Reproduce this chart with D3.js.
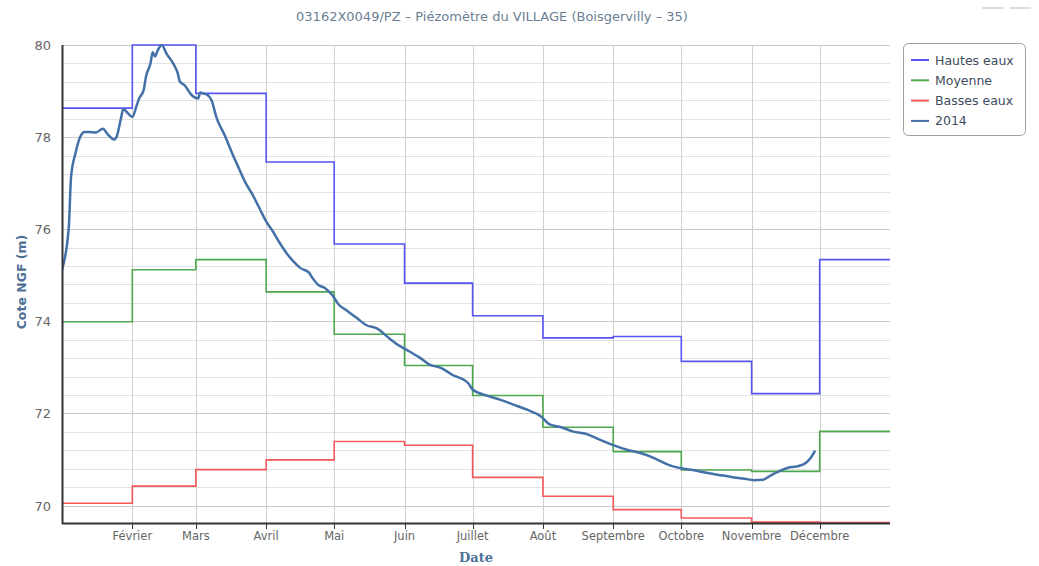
<!DOCTYPE html>
<html>
<head>
<meta charset="utf-8">
<script src="https://cdn.jsdelivr.net/npm/d3@7"></script>
<style>
  body { margin: 0; background: #fff; }
  svg { display: block; font-family: "DejaVu Sans", Verdana, sans-serif; }
</style>
</head>
<body>
<div class="container"></div>
<script>
// monthly reference levels (Jan..Dec)
const monthStarts = ['2014-01-01','2014-02-01','2014-03-01','2014-04-01','2014-05-01','2014-06-01',
                     '2014-07-01','2014-08-01','2014-09-01','2014-10-01','2014-11-01','2014-12-01']
const monthLabels = ['Janvier','Février','Mars','Avril','Mai','Juin','Juillet','Août',
                     'Septembre','Octobre','Novembre','Décembre']
const hautes = [78.63, 80.0, 78.95, 77.46, 75.68, 74.83, 74.12, 73.64, 73.67, 73.13, 72.43, 75.34]
const moyenne = [73.99, 75.12, 75.34, 74.64, 73.72, 73.04, 72.39, 71.70, 71.17, 70.77, 70.74, 71.61]
const basses = [70.05, 70.42, 70.78, 70.99, 71.39, 71.31, 70.61, 70.20, 69.91, 69.73, 69.64, 69.63]

// 2014 measured levels
const dates2014 = ['2014-01-01','2014-01-04','2014-01-05','2014-01-07','2014-01-09','2014-01-11','2014-01-13',
  '2014-01-16','2014-01-19','2014-01-21','2014-01-24','2014-01-25','2014-01-27','2014-01-28','2014-01-30',
  '2014-02-01','2014-02-03','2014-02-04','2014-02-06','2014-02-07','2014-02-09','2014-02-10','2014-02-11',
  '2014-02-12','2014-02-14','2014-02-16','2014-02-19','2014-02-21','2014-02-22','2014-02-24','2014-02-27',
  '2014-03-02','2014-03-03','2014-03-04','2014-03-06','2014-03-08','2014-03-10','2014-03-14','2014-03-17',
  '2014-03-20','2014-03-23','2014-03-26','2014-03-29','2014-04-01','2014-04-04','2014-04-07','2014-04-10',
  '2014-04-13','2014-04-16','2014-04-20','2014-04-21','2014-04-24','2014-04-27','2014-04-30','2014-05-03',
  '2014-05-06','2014-05-11','2014-05-15','2014-05-20','2014-05-25','2014-05-30','2014-06-03','2014-06-08',
  '2014-06-12','2014-06-17','2014-06-22','2014-06-29','2014-07-01','2014-07-07','2014-07-13','2014-07-19',
  '2014-07-25','2014-07-31','2014-08-04','2014-08-09','2014-08-14','2014-08-21','2014-08-26','2014-09-01',
  '2014-09-07','2014-09-13','2014-09-19','2014-09-22','2014-09-26','2014-10-02','2014-10-06','2014-10-12',
  '2014-10-17','2014-10-23','2014-10-29','2014-11-02','2014-11-06','2014-11-09','2014-11-13','2014-11-17',
  '2014-11-21','2014-11-25','2014-11-27','2014-11-29']
const levels2014 = [75.12, 76.05, 77.14, 77.66, 78.0, 78.11, 78.11,
  78.10, 78.18, 78.07, 77.95, 78.0, 78.41, 78.61, 78.52,
  78.44, 78.70, 78.84, 79.02, 79.31, 79.60, 79.84, 79.75,
  79.86, 80.0, 79.82, 79.60, 79.39, 79.20, 79.13, 78.92,
  78.84, 78.97, 78.95, 78.92, 78.79, 78.44, 78.01, 77.65,
  77.32, 77.0, 76.75, 76.46, 76.17, 75.95, 75.70, 75.48,
  75.30, 75.16, 75.05, 74.97, 74.79, 74.72, 74.58, 74.36,
  74.25, 74.07, 73.92, 73.84, 73.64, 73.46, 73.35, 73.20,
  73.06, 72.99, 72.84, 72.66, 72.52, 72.39, 72.30, 72.19,
  72.08, 71.94, 71.76, 71.70, 71.61, 71.54, 71.43, 71.31,
  71.21, 71.14, 71.03, 70.96, 70.87, 70.80, 70.77, 70.71,
  70.67, 70.62, 70.58, 70.55, 70.56, 70.64, 70.74, 70.82,
  70.85, 70.93, 71.03, 71.19]

const yTicks = [70, 72, 74, 76, 78, 80]

let margin = { top: 45, left: 62, bottom: 43, right: 149 }
const width = 1039 - margin.left - margin.right
const height = 566 - margin.top - margin.bottom

const parse = d3.timeParse('%Y-%m-%d')

const svg = d3.select('.container').append('svg')
    .attr('width', 1039)
    .attr('height', 566)
const g = svg.append('g')
    .attr('transform', `translate(${margin.left},${margin.top})`)

const x = d3.scaleTime()
    .domain([parse('2014-01-01'), parse('2015-01-01')])
    .range([0, width])
const y = d3.scaleLinear().domain([69.62, 80]).range([height, 0])

// horizontal grid: minor every 0.4, major every 2
const minor = d3.range(70, 80.01, 0.4).map(v => +v.toFixed(1))
g.append('g').selectAll('line').data(minor).enter().append('line')
    .attr('x1', 0).attr('x2', width)
    .attr('y1', d => Math.round(y(d)) + 0.5).attr('y2', d => Math.round(y(d)) + 0.5)
    .attr('stroke', d => yTicks.includes(Math.round(d * 10) / 10) ? '#c8c8c8' : '#e2e2e2')
    .attr('stroke-width', 1)

// vertical month grid
const monthDates = monthStarts.map(parse)
g.append('g').selectAll('line').data(monthDates.slice(1)).enter().append('line')
    .attr('x1', d => Math.round(x(d)) + 0.5).attr('x2', d => Math.round(x(d)) + 0.5)
    .attr('y1', 0).attr('y2', height)
    .attr('stroke', '#d0d0d0')

// step series
function stepPoints(vals) {
    let pts = vals.map((v, i) => ({ d: monthDates[i], v: v }))
    pts.push({ d: parse('2015-01-01'), v: vals[vals.length - 1] })
    return pts
}
const stepLine = d3.line().x(d => x(d.d)).y(d => y(d.v)).curve(d3.curveStepAfter)

svg.append('clipPath').attr('id', 'clip').append('rect')
    .attr('x', 0).attr('y', -1).attr('width', width).attr('height', height + 1)

const series = [
    { name: 'Hautes eaux', vals: hautes, color: '#5555f2' },
    { name: 'Moyenne', vals: moyenne, color: '#4ea84e' },
    { name: 'Basses eaux', vals: basses, color: '#f45858' }
]
const plot = g.append('g').attr('clip-path', 'url(#clip)')
series.forEach(s => {
    plot.append('path')
        .datum(stepPoints(s.vals))
        .attr('fill', 'none')
        .attr('stroke', s.color)
        .attr('stroke-width', 1.6)
        .attr('d', stepLine)
})

const data2014 = dates2014.map((d, i) => ({ d: parse(d), v: levels2014[i] }))
plot.append('path')
    .datum(data2014)
    .attr('fill', 'none')
    .attr('stroke', '#4470a8')
    .attr('stroke-width', 2.5)
    .attr('stroke-linejoin', 'round')
    .attr('d', d3.line().x(d => x(d.d)).y(d => y(d.v)).curve(d3.curveMonotoneX))

// axes
const xAxis = g.append('g').attr('transform', `translate(0,${height})`)
xAxis.append('line').attr('x1', 0).attr('x2', width).attr('y1', 0.5).attr('y2', 0.5)
    .attr('stroke', '#333').attr('stroke-width', 2)
xAxis.selectAll('.tick').data(monthDates.slice(1)).enter().append('line')
    .attr('x1', d => Math.round(x(d)) + 0.5).attr('x2', d => Math.round(x(d)) + 0.5)
    .attr('y1', 0).attr('y2', 6).attr('stroke', '#333')
xAxis.selectAll('.lbl').data(monthDates.slice(1)).enter().append('text')
    .attr('x', d => x(d)).attr('y', 17)
    .attr('text-anchor', 'middle')
    .attr('fill', '#666').style('font-size', '11.5px')
    .text((d, i) => monthLabels[i + 1])

g.append('line').attr('x1', 0.5).attr('x2', 0.5).attr('y1', 0).attr('y2', height + 1)
    .attr('stroke', '#333').attr('stroke-width', 2)
g.append('g').selectAll('text').data(yTicks).enter().append('text')
    .attr('x', -11).attr('y', d => y(d) + 5)
    .attr('text-anchor', 'end')
    .attr('fill', '#666').style('font-size', '13px')
    .text(d => d)

// axis titles
svg.append('text')
    .attr('x', 476).attr('y', 562)
    .attr('text-anchor', 'middle')
    .attr('fill', '#4d6f96')
    .style('font-family', '"DejaVu Serif", serif').style('font-weight', 'bold').style('font-size', '13px')
    .text('Date')
svg.append('text')
    .attr('transform', 'translate(26,282) rotate(-90)')
    .attr('text-anchor', 'middle')
    .attr('fill', '#4d6f96')
    .style('font-weight', 'bold').style('font-size', '12.5px')
    .text('Cote NGF (m)')

// title
svg.append('text')
    .attr('x', 492).attr('y', 21)
    .attr('text-anchor', 'middle')
    .attr('fill', '#6b7f93')
    .style('font-size', '13px')
    .text('03162X0049/PZ – Piézomètre du VILLAGE (Boisgervilly – 35)')

// export button hints
svg.append('line').attr('x1', 982).attr('x2', 1004).attr('y1', 8).attr('y2', 8).attr('stroke', '#ddd').attr('stroke-width', 2)
svg.append('line').attr('x1', 1010).attr('x2', 1031).attr('y1', 8).attr('y2', 8).attr('stroke', '#ddd').attr('stroke-width', 2)

// legend
const legend = svg.append('g').attr('id', 'legend').attr('transform', 'translate(903,43)')
legend.append('rect').attr('x', 0.5).attr('y', 0.5).attr('width', 122).attr('height', 92)
    .attr('rx', 5).attr('fill', '#fff').attr('stroke', '#a0a0a0')
const legendItems = series.concat([{ name: '2014', color: '#4470a8' }])
const item = legend.selectAll('.legend-label').data(legendItems).enter().append('g')
    .attr('class', 'legend-label')
    .attr('transform', (d, i) => `translate(0,${17 + i * 20.3})`)
item.append('line').attr('x1', 8).attr('x2', 26).attr('y1', 0).attr('y2', 0)
    .attr('stroke', d => d.color).attr('stroke-width', 2)
item.append('text').attr('x', 32).attr('y', 4.5)
    .attr('fill', '#3c4c5c').style('font-size', '12.5px')
    .text(d => d.name)
</script>
</body>
</html>
